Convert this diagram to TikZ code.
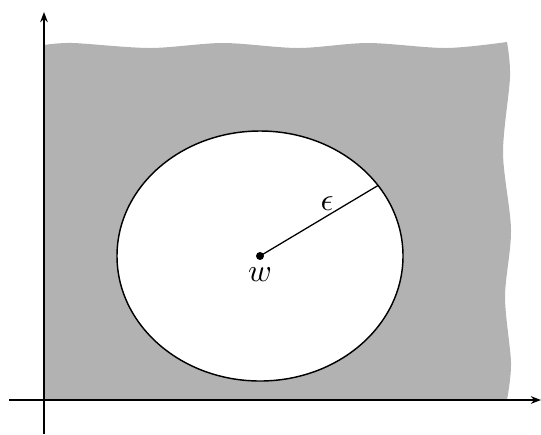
\documentclass[tikz,border=0pt]{standalone}
\usetikzlibrary{arrows.meta}
\begin{document}
\begin{tikzpicture}[x=0.3125pt,y=-0.3125pt,
  axis/.style={line width=0.4pt,-{Stealth[length=3.2pt,width=2.4pt]}},
  region/.style={fill=black!30},
  ball/.style={draw,fill=white,line width=0.45pt},
  dotnode/.style={circle,fill,inner sep=0pt,minimum size=2.5pt},
  radius line/.style={line width=0.4pt}]
\useasboundingbox (0,0) rectangle (541,434);
% gray region with wavy top and right edges
\fill[region] (44,400) -- (44,45)
  -- plot[smooth] coordinates {(44,45) (73,43) (150,48) (223,43) (298,48) (368,43) (446,48) (507,42)}
  -- plot[smooth] coordinates {(507,42) (510,77) (503,153) (511,230) (505,297) (511,363) (507,400)}
  -- cycle;
% axes
\coordinate (xs) at (9,400);
\coordinate (xe) at (541,400);
\coordinate (ys) at (44,434);
\coordinate (ye) at (44,12);
\draw[axis] (xs) -- (xe);
\draw[axis] (ys) -- (ye);
% ball
\draw[ball] (260,256) ellipse [x radius=143, y radius=125];
\node[dotnode] (w) at (260,256) {};
\coordinate (r) at (378,185.5);
\draw[radius line] (w.center) -- (r);
\node (eps) at (327,204) {$\epsilon$};
\node (wl) at (260,275) {$w$};
\end{tikzpicture}
\end{document}
